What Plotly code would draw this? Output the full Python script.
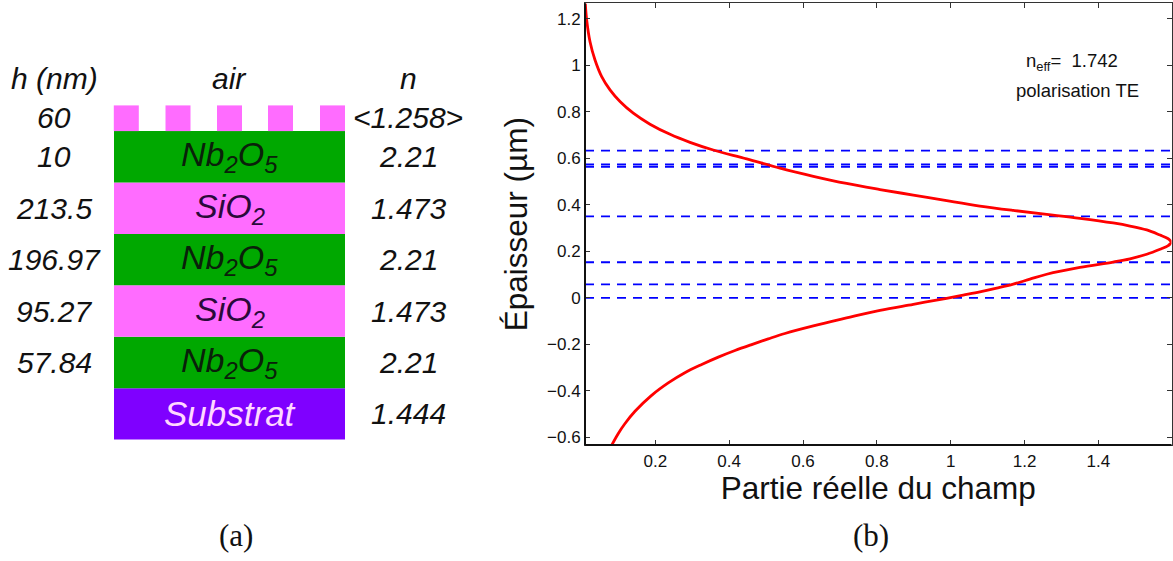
import plotly.graph_objects as go

# ---------- panel (a) : stack ----------
layer_names = ["Substrat", "Nb<sub>2</sub>O<sub>5</sub>", "SiO<sub>2</sub>", "Nb<sub>2</sub>O<sub>5</sub>",
               "SiO<sub>2</sub>", "Nb<sub>2</sub>O<sub>5</sub>"]
layer_rows = [0, 1, 2, 3, 4, 5]
layer_colors = ["#7f00ff", "#00a800", "#ff6cff", "#00a800", "#ff6cff", "#00a800"]
layer_text_colors = ["#ffd8ff", "#0a200a", "#2a0a3a", "#0a200a", "#2a0a3a", "#0a200a"]
heights_nm = ["", "57.84", "95.27", "196.97", "213.5", "10"]
indices = ["1.444", "2.21", "1.473", "2.21", "1.473", "2.21"]
grating_x = [126.3, 178, 229.5, 280.5, 332.5]
grating_h = "60"
grating_n = "&lt;1.258&gt;"

# ---------- panel (b) : field profile ----------
interfaces = [0, 0.05784, 0.15311, 0.35008, 0.56358, 0.57358, 0.63358]
field = [0.082, 0.0998, 0.118, 0.145, 0.190, 0.235, 0.280, 0.3257, 0.3706, 0.4158, 0.461, 0.506, 0.551,
         0.628, 0.718, 0.8085, 0.8987, 0.989, 1.034, 1.079, 1.1246, 1.1695, 1.2147, 1.26, 1.350, 1.440,
         1.4856, 1.531, 1.567, 1.588, 1.594, 1.597, 1.594, 1.588, 1.567, 1.531, 1.4856, 1.440, 1.350, 1.260,
         1.1695, 1.079, 0.989, 0.8987, 0.8085, 0.718, 0.628, 0.5377, 0.4475, 0.357, 0.294, 0.240, 0.1856,
         0.1404, 0.1044, 0.0773, 0.0548, 0.0367, 0.0232, 0.0142, 0.0104]
depth = [-0.6336, -0.5835, -0.5407, -0.488, -0.4195, -0.366, -0.322, -0.2866, -0.255, -0.2267, -0.201, -0.1765,
         -0.1534, -0.1208, -0.0866, -0.0536, -0.0278, -0.002, 0.012, 0.026, 0.042, 0.059, 0.0805, 0.1015, 0.131,
         0.154, 0.168, 0.1877, 0.209, 0.2235, 0.2315, 0.2395, 0.2475, 0.2555, 0.270, 0.292, 0.309, 0.322, 0.342,
         0.359, 0.376, 0.395, 0.418, 0.442, 0.466, 0.492, 0.523, 0.558, 0.598, 0.636, 0.669, 0.7034, 0.747,
         0.7942, 0.8445, 0.8946, 0.9516, 1.023, 1.1015, 1.1945, 1.266]
x_range = [0.0096, 1.598]
y_range = [-0.6336, 1.2672]

W, H = 1173, 561
SANS = "Liberation Sans"
SERIF = "Liberation Serif"
fig = go.Figure()

# left panel bars
fig.add_trace(go.Bar(x=[229.5] * len(layer_rows), y=[1] * len(layer_rows), base=layer_rows, width=231,
                     marker=dict(color=layer_colors, line=dict(width=0)),
                     xaxis="x2", yaxis="y2", showlegend=False, hoverinfo="skip"))
fig.add_trace(go.Bar(x=grating_x, y=[0.5] * len(grating_x), base=[6] * len(grating_x), width=25,
                     marker=dict(color="#ff6cff", line=dict(width=0)),
                     xaxis="x2", yaxis="y2", showlegend=False, hoverinfo="skip"))

# right panel
for z in interfaces:
    fig.add_trace(go.Scatter(x=x_range, y=[z, z], mode="lines", showlegend=False, hoverinfo="skip",
                             line=dict(color="#0000ff", width=1.8, dash="9px,7px")))
fig.add_trace(go.Scatter(x=field, y=depth, mode="lines", showlegend=False,
                         line=dict(color="#ff0000", width=2.8, shape="spline", smoothing=1.0)))

ann = []
def note(x, y, text, size=30, color="#111111", family=SANS, italic=True, xref="x2", yref="y2"):
    ann.append(dict(x=x, y=y, xref=xref, yref=yref, text=f"<i>{text}</i>" if italic else text,
                    showarrow=False, xanchor="center", yanchor="middle",
                    font=dict(family=family, size=size, color=color)))

note(54, 7.03, "h (nm)")
note(229, 7.03, "air")
note(408, 7.03, "n")
note(54, 6.27, grating_h)
note(408, 6.27, grating_n)
for r, name, tc, h, n in zip(layer_rows, layer_names, layer_text_colors, heights_nm, indices):
    note(229.5, r + 0.5, name, color=tc, size=35 if r == 0 else 34)
    if h:
        note(54, r + 0.5, h)
    note(408, r + 0.5, n)
note(236, -1.87, "(a)", size=31, family=SERIF, italic=False)
note(871 / W, 24 / 561, "(b)", size=31, family=SERIF, italic=False, xref="paper", yref="paper")
note(1.329, 1.014, "n<sub>eff</sub>=\u00a0\u00a01.742", size=18.5, italic=False, xref="x", yref="y")
note(1.3437, 0.894, "polarisation TE", size=18.5, italic=False, xref="x", yref="y")

axis_common = dict(showgrid=False, zeroline=False, ticks="inside", ticklen=5, tickwidth=1, tickcolor="#333333",
                   showline=True, linecolor="#333333", linewidth=1, mirror="allticks", dtick=0.2, tick0=0,
                   tickfont=dict(family=SANS, size=17, color="#111111"))
frame_left = dict(type="line", xref="x domain", yref="y domain", x0=0, x1=0, y0=0, y1=1,
                  line=dict(color="#111111", width=2))
frame_bottom = dict(type="line", xref="x domain", yref="y domain", x0=0, x1=1, y0=0, y1=0,
                    line=dict(color="#111111", width=2))
fig.update_layout(
    width=W, height=H, autosize=False, margin=dict(l=0, r=0, t=0, b=0),
    paper_bgcolor="white", plot_bgcolor="white", barmode="overlay", showlegend=False, annotations=ann,
    shapes=[frame_left, frame_bottom],
    xaxis=dict(domain=[585 / W, 1171.5 / W], range=x_range, anchor="y",
               title=dict(text="Partie réelle du champ", font=dict(family=SANS, size=31.5, color="#111111"), standoff=1),
               **axis_common),
    yaxis=dict(domain=[(H - 446.7) / H, (H - 3.3) / H], range=y_range, anchor="x",
               title=dict(text="Épaisseur (µm)", font=dict(family=SANS, size=31.5, color="#111111"), standoff=10),
               **axis_common),
    xaxis2=dict(domain=[0, 480 / W], range=[0, 480], visible=False, anchor="y2"),
    yaxis2=dict(domain=[0, 1], range=[-2.322, 8.55], visible=False, anchor="x2"),
)
fig.write_html("out.html", config={"displayModeBar": False},
               post_script="document.body.style.margin='0';document.body.style.overflow='hidden';")
